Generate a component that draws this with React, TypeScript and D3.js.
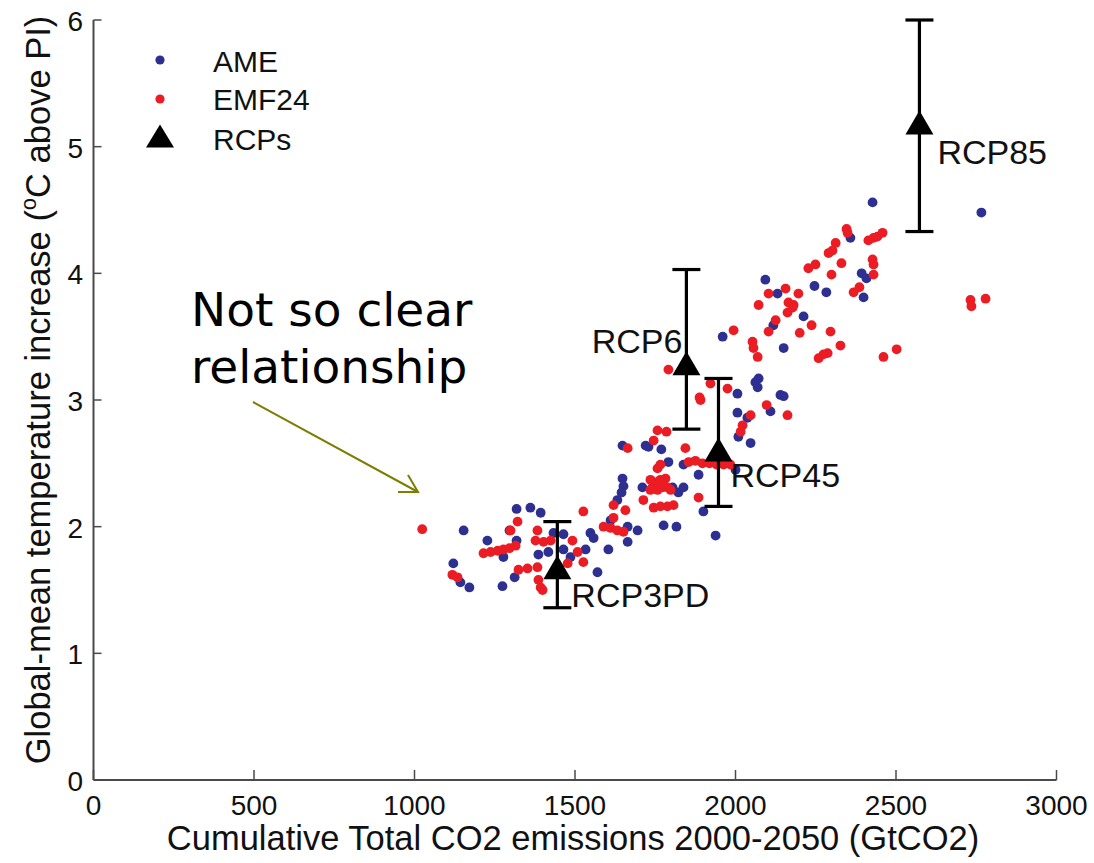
import React from "react";
import * as d3 from "d3";

// AME scenario runs: cumulative CO2 2000-2050 (GtCO2), warming (°C above PI)
const ameX = [1153,1318,1361,1393,1296,1227,1318,1277,1121,1143,1171,1274,1312,1433,1464,1386,1417,1464,1533,1486,1570,1548,1558,1611,1604,1648,1651,1645,1632,1664,1695,1664,1710,2006,2009,2037,1648,1720,1729,1769,1838,1791,1885,2000,1804,1822,1838,1900,1776,1816,1938,2062,2006,2140,2109,2047,2093,2131,2118,1960,2150,2072,2069,2150,2427,2358,2393,2408,2246,2283,2399,2212,2766];
const ameY = [1.97,2.14,2.15,2.11,1.97,1.89,1.89,1.76,1.71,1.56,1.52,1.53,1.60,1.95,1.94,1.78,1.80,1.82,1.82,1.76,1.64,1.95,1.91,2.05,1.82,2.38,2.32,2.27,2.21,2.00,1.97,1.88,2.31,2.90,2.71,2.86,2.64,2.64,2.63,2.61,2.49,2.51,2.41,2.45,2.31,2.27,2.31,2.12,2.01,2.00,1.93,3.14,3.05,3.04,2.91,2.66,3.95,3.84,3.59,3.50,3.41,3.17,3.10,3.03,4.56,4.28,4.00,3.96,3.90,3.85,3.81,3.66,4.48];

// EMF24 scenario runs
const emfX = [1024,1526,1321,1299,1215,1237,1259,1277,1296,1315,1118,1134,1324,1352,1383,1383,1377,1402,1424,1492,1508,1526,1477,1386,1393,1399,1620,1657,1589,1611,1632,1651,1620,1713,1735,1891,2022,2016,1757,1785,1745,1664,1844,1854,1875,1897,1919,1941,1963,1984,1766,1757,1735,1751,1766,1782,1741,1757,1773,1788,1798,1745,1766,1788,1807,1885,1791,1922,1975,1888,2097,2162,2047,2156,2103,2196,2165,2181,2162,2178,2072,2125,2103,2200,1994,2053,2056,2069,2346,2349,2414,2430,2442,2458,2312,2302,2290,2427,2430,2249,2227,2330,2430,2299,2386,2368,2237,2296,2327,2259,2274,2287,2461,2502,2732,2735,2779];
const emfY = [1.98,2.12,2.04,1.97,1.79,1.80,1.81,1.82,1.83,1.85,1.62,1.60,1.66,1.67,1.68,1.97,1.89,1.88,1.89,1.89,1.80,1.72,1.71,1.58,1.52,1.50,2.17,2.13,2.00,1.99,1.97,1.96,2.07,2.21,2.29,3.00,2.80,2.75,2.76,2.75,2.68,2.62,2.62,2.51,2.52,2.50,2.50,2.49,2.49,2.49,2.49,2.46,2.37,2.35,2.37,2.38,2.31,2.29,2.31,2.31,2.29,2.15,2.16,2.16,2.17,2.23,3.24,3.13,3.09,3.02,2.96,2.88,2.88,3.88,3.84,3.84,3.77,3.75,3.69,3.73,3.75,3.63,3.54,3.53,3.55,3.46,3.41,3.34,4.35,4.32,4.26,4.28,4.29,4.32,4.24,4.18,4.16,4.11,4.07,4.07,4.04,4.08,3.99,3.99,3.89,3.85,3.59,3.54,3.43,3.33,3.36,3.37,3.34,3.40,3.79,3.74,3.80];

// RCP pathways with warming ranges
const rcpNames = ["RCP3PD", "RCP45", "RCP6", "RCP85"];
const rcpX = [1445, 1947, 1847, 2573];
const rcpY = [1.68, 2.61, 3.29, 5.19];
const rcpLow = [1.36, 2.16, 2.77, 4.33];
const rcpHigh = [2.04, 3.17, 4.03, 6.0];

const xTicks = [0, 500, 1000, 1500, 2000, 2500, 3000];
const yTicks = [0, 1, 2, 3, 4, 5, 6];

// label placement relative to each triangle (px)
const rcpLabelOffset: Record<string, { dx: number; dy: number; anchor: string }> = {
  RCP3PD: { dx: 14, dy: 40, anchor: "start" },
  RCP45: { dx: 12, dy: 38, anchor: "start" },
  RCP6: { dx: -4, dy: -10, anchor: "end" },
  RCP85: { dx: 18, dy: 41, anchor: "start" },
};

const W = 1094;
const H = 863;
const BLUE = "#2d3091";
const RED = "#ec1c24";
const AXIS = "#4a4a4a";
const FONT = "'Liberation Sans', Arial, Helvetica, sans-serif";
const DOT_R = 4.9;

const x = d3.scaleLinear().domain([0, 3000]).range([93.5, 1056.5]);
const y = d3.scaleLinear().domain([0, 6]).range([780, 20]);

function triangle(cx: number, cy: number, w: number, h: number) {
  return `M${cx - w / 2},${cy + h / 2}L${cx + w / 2},${cy + h / 2}L${cx},${cy - h / 2}Z`;
}

export default function App() {
  const ame = ameX.map((v, i) => [v, ameY[i]]);
  const emf = emfX.map((v, i) => [v, emfY[i]]);
  const x0 = x(0);
  const y0 = y(0);
  const capW = 28;

  return (
    <svg
      width={W}
      height={H}
      viewBox={`0 0 ${W} ${H}`}
      style={{ position: "absolute", left: 0, top: 0, background: "#fff" }}
      fontFamily={FONT}
    >
      <rect width={W} height={H} fill="#fff" />

      {/* axes */}
      <line x1={x0} x2={x(3000)} y1={y0} y2={y0} stroke={AXIS} strokeWidth={2} />
      <line x1={x0} x2={x0} y1={y0} y2={y(6)} stroke={AXIS} strokeWidth={2} />
      {xTicks.map((t) => (
        <g key={`xt${t}`}>
          <line x1={x(t)} x2={x(t)} y1={y0} y2={y0 - 10} stroke={AXIS} strokeWidth={1.5} />
          <text x={x(t)} y={815} fontSize={28} textAnchor="middle" fill="#111">
            {t}
          </text>
        </g>
      ))}
      {yTicks.map((t) => (
        <g key={`yt${t}`}>
          <line x1={x0} x2={x0 + 8} y1={y(t)} y2={y(t)} stroke={AXIS} strokeWidth={1.5} />
          <text x={83} y={y(t) + 11} fontSize={28} textAnchor="end" fill="#111">
            {t}
          </text>
        </g>
      ))}

      <text x={573} y={850} fontSize={34.5} textAnchor="middle" fill="#111">
        Cumulative Total CO2 emissions 2000-2050 (GtCO2)
      </text>
      <text transform="translate(50,390) rotate(-90)" fontSize={34.5} textAnchor="middle" fill="#111">
        Global-mean temperature increase (
        <tspan fontSize={22} dy={-14}>o</tspan>
        <tspan dy={14}>C above PI)</tspan>
      </text>

      {/* scenario points */}
      <g>
        {ame.map(([a, b], i) => (
          <circle key={`a${i}`} cx={x(a)} cy={y(b)} r={DOT_R} fill={BLUE} />
        ))}
      </g>
      <g>
        {emf.map(([a, b], i) => (
          <circle key={`e${i}`} cx={x(a)} cy={y(b)} r={DOT_R} fill={RED} />
        ))}
      </g>

      {/* RCP ranges */}
      {rcpNames.map((n, i) => {
        const cx = x(rcpX[i]);
        const cy = y(rcpY[i]);
        const off = rcpLabelOffset[n];
        return (
          <g key={n}>
            <line x1={cx} x2={cx} y1={y(rcpLow[i])} y2={y(rcpHigh[i])} stroke="#000" strokeWidth={3.2} />
            <line x1={cx - capW / 2} x2={cx + capW / 2} y1={y(rcpLow[i])} y2={y(rcpLow[i])} stroke="#000" strokeWidth={3.2} />
            <line x1={cx - capW / 2} x2={cx + capW / 2} y1={y(rcpHigh[i])} y2={y(rcpHigh[i])} stroke="#000" strokeWidth={3.2} />
            <path d={triangle(cx, cy, 28, 24)} fill="#000" />
            <text x={cx + off.dx} y={cy + off.dy} fontSize={34} textAnchor={off.anchor} fill="#111">
              {n}
            </text>
          </g>
        );
      })}

      {/* legend */}
      <circle cx={160} cy={60} r={4.6} fill={BLUE} />
      <text x={213} y={72} fontSize={30} fill="#111">AME</text>
      <circle cx={160} cy={99} r={4.6} fill={RED} />
      <text x={213} y={110} fontSize={30} fill="#111">EMF24</text>
      <path d={triangle(160, 136, 28, 23)} fill="#000" />
      <text x={213} y={150} fontSize={30} fill="#111">RCPs</text>

      {/* annotation */}
      <text fontFamily="'DejaVu Sans', Verdana, sans-serif" fontSize={47} fill="#000">
        <tspan x={191} y={326}>Not so clear</tspan>
        <tspan x={191} y={383}>relationship</tspan>
      </text>
      <g stroke="#7d7d00" strokeWidth={2} fill="none">
        <line x1={253} y1={402} x2={418} y2={492} />
        <polyline points="398,492 418,492 408,475" />
      </g>
    </svg>
  );
}
